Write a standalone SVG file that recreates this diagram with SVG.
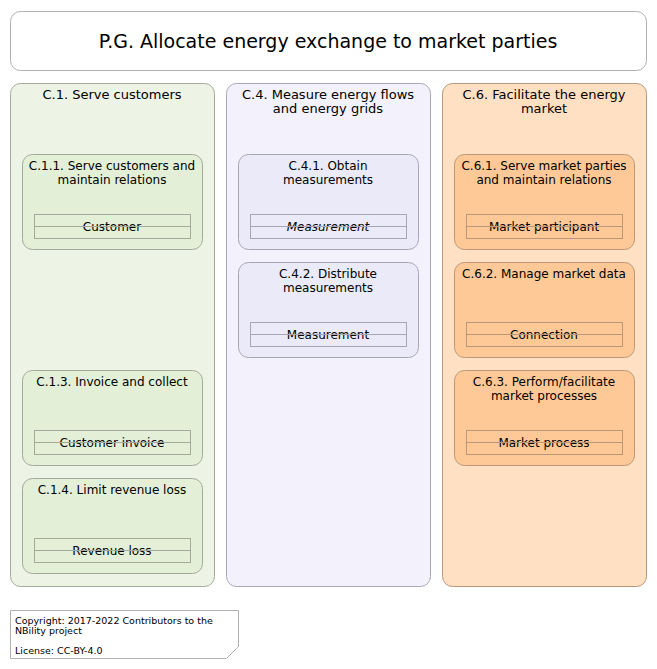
<svg xmlns="http://www.w3.org/2000/svg" width="657" height="669" viewBox="0 0 657 669">
<style>
text{font-family:"DejaVu Sans",sans-serif;fill:#000;text-anchor:middle}
.t{font-size:19px}
.c{font-size:13px}
.s{font-size:12px}
.e{font-size:12px}
.f{font-size:9.5px;text-anchor:start}
.g1{fill:#edf3e5;stroke:#a3aa9c}
.s1{fill:#e3efd7;stroke:#a3aa9c}
.g4{fill:#f3f2fc;stroke:#a8a6b4}
.s4{fill:#ebeaf8;stroke:#a8a6b4}
.g6{fill:#ffe0c2;stroke:#b8977a}
.s6{fill:#ffc997;stroke:#b8977a}
</style>
<rect width="657" height="669" fill="#fff"/>
<g id="title"><rect x="10.5" y="11.5" width="636" height="59" rx="10" fill="#fff" stroke="#b0b0b0"/><text class="t" x="328" y="48">P.G. Allocate energy exchange to market parties</text></g>
<g id="C1"><rect class="g1" x="10.5" y="83.5" width="204" height="503" rx="10"/><text class="c" x="112" y="99">C.1. Serve customers</text></g>
<g id="C4"><rect class="g4" x="226.5" y="83.5" width="204" height="503" rx="10"/><text class="c" x="328" y="99">C.4. Measure energy flows</text><text class="c" x="328" y="113">and energy grids</text></g>
<g id="C6"><rect class="g6" x="442.5" y="83.5" width="204" height="503" rx="10"/><text class="c" x="544" y="99">C.6. Facilitate the energy</text><text class="c" x="544" y="113">market</text></g>

<g id="C11"><rect class="s1" x="22.5" y="154.5" width="180" height="95" rx="10"/><text class="s" x="112" y="170">C.1.1. Serve customers and</text><text class="s" x="112" y="184">maintain relations</text>
<rect class="s1" x="34.5" y="214.5" width="156" height="24"/><text class="e" x="112" y="231">Customer</text><line class="s1" x1="34.5" y1="226.5" x2="190.5" y2="226.5"/></g>
<g id="C13"><rect class="s1" x="22.5" y="370.5" width="180" height="95" rx="10"/><text class="s" x="112" y="386">C.1.3. Invoice and collect</text>
<rect class="s1" x="34.5" y="430.5" width="156" height="24"/><text class="e" x="112" y="447">Customer invoice</text><line class="s1" x1="34.5" y1="442.5" x2="190.5" y2="442.5"/></g>
<g id="C14"><rect class="s1" x="22.5" y="478.5" width="180" height="95" rx="10"/><text class="s" x="112" y="494">C.1.4. Limit revenue loss</text>
<rect class="s1" x="34.5" y="538.5" width="156" height="24"/><text class="e" x="112" y="555">Revenue loss</text><line class="s1" x1="34.5" y1="550.5" x2="190.5" y2="550.5"/></g>

<g id="C41"><rect class="s4" x="238.5" y="154.5" width="180" height="95" rx="10"/><text class="s" x="328" y="170">C.4.1. Obtain</text><text class="s" x="328" y="184">measurements</text>
<rect class="s4" x="250.5" y="214.5" width="156" height="24"/><text class="e" x="328" y="231" font-style="italic">Measurement</text><line class="s4" x1="250.5" y1="226.5" x2="406.5" y2="226.5"/></g>
<g id="C42"><rect class="s4" x="238.5" y="262.5" width="180" height="95" rx="10"/><text class="s" x="328" y="278">C.4.2. Distribute</text><text class="s" x="328" y="292">measurements</text>
<rect class="s4" x="250.5" y="322.5" width="156" height="24"/><text class="e" x="328" y="339">Measurement</text><line class="s4" x1="250.5" y1="334.5" x2="406.5" y2="334.5"/></g>

<g id="C61"><rect class="s6" x="454.5" y="154.5" width="180" height="95" rx="10"/><text class="s" x="544" y="170">C.6.1. Serve market parties</text><text class="s" x="544" y="184">and maintain relations</text>
<rect class="s6" x="466.5" y="214.5" width="156" height="24"/><text class="e" x="544" y="231">Market participant</text><line class="s6" x1="466.5" y1="226.5" x2="622.5" y2="226.5"/></g>
<g id="C62"><rect class="s6" x="454.5" y="262.5" width="180" height="95" rx="10"/><text class="s" x="544" y="278">C.6.2. Manage market data</text>
<rect class="s6" x="466.5" y="322.5" width="156" height="24"/><text class="e" x="544" y="339">Connection</text><line class="s6" x1="466.5" y1="334.5" x2="622.5" y2="334.5"/></g>
<g id="C63"><rect class="s6" x="454.5" y="370.5" width="180" height="95" rx="10"/><text class="s" x="544" y="386">C.6.3. Perform/facilitate</text><text class="s" x="544" y="400">market processes</text>
<rect class="s6" x="466.5" y="430.5" width="156" height="24"/><text class="e" x="544" y="447">Market process</text><line class="s6" x1="466.5" y1="442.5" x2="622.5" y2="442.5"/></g>

<g id="footer"><polygon points="10.5,610.5 238.5,610.5 238.5,646.5 226.5,658.5 10.5,658.5" fill="#fff" stroke="#b0b0b0"/>
<text class="f" x="15" y="624">Copyright: 2017-2022 Contributors to the</text><text class="f" x="15" y="634">NBility project</text><text class="f" x="15" y="654">License: CC-BY-4.0</text></g>
<g id="connectors"/>
</svg>
